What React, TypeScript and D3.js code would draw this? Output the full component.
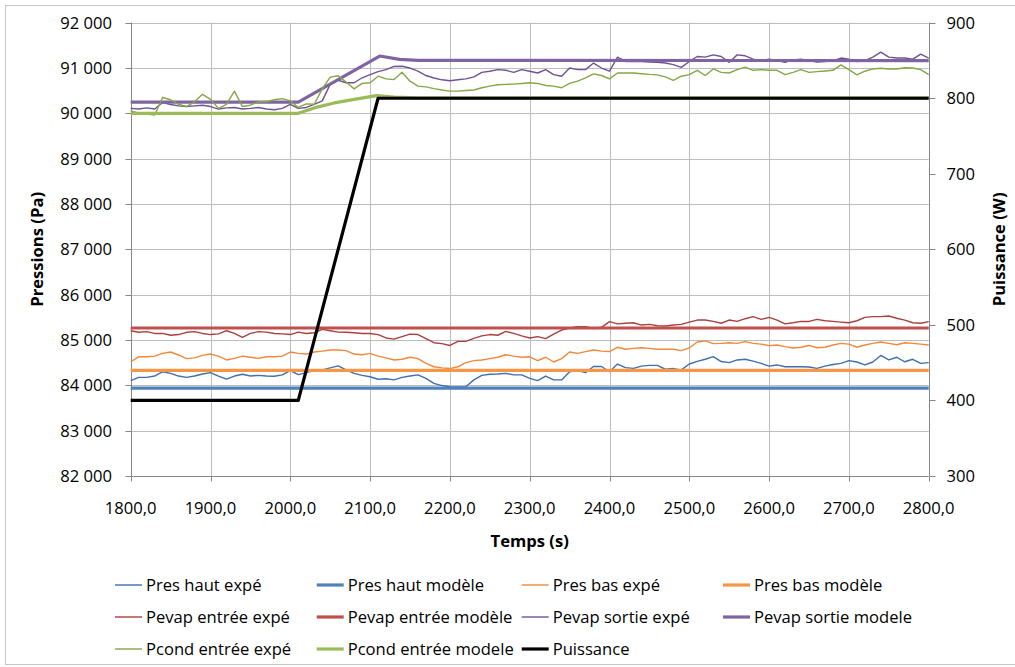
import React from "react";
import * as d3 from "d3";

// ---------- DATA ----------
const TIMES = d3.range(1800, 2801, 10);

const presHautExpe = [
  84105, 84175, 84175, 84205, 84300, 84265, 84205, 84175, 84205, 84250,
  84280, 84205, 84135, 84205, 84245, 84205, 84220, 84205, 84200, 84230,
  84325, 84235, 84280, 84325, 84340, 84385, 84430, 84340, 84265, 84220,
  84190, 84135, 84145, 84120, 84175, 84205, 84230, 84155, 84045, 83995,
  83970, 83965, 83970, 84120, 84220, 84245, 84250, 84265, 84230, 84230,
  84155, 84105, 84205, 84120, 84120, 84300, 84325, 84280, 84415, 84415,
  84300, 84470, 84390, 84375, 84425, 84440, 84440, 84355, 84370, 84340,
  84470, 84530, 84575, 84635, 84525, 84500, 84560, 84575, 84535, 84485,
  84425, 84450, 84410, 84410, 84410, 84405, 84375, 84425, 84460, 84485,
  84545, 84515, 84450, 84515, 84660, 84560, 84620, 84520, 84575, 84485,
  84500,
];

const presBasExpe = [
  84520, 84630, 84630, 84645, 84705, 84735, 84670, 84590, 84605, 84660,
  84690, 84645, 84560, 84595, 84645, 84620, 84595, 84630, 84630, 84645,
  84735, 84705, 84690, 84735, 84755, 84780, 84780, 84765, 84690, 84675,
  84705, 84645, 84605, 84560, 84575, 84620, 84590, 84485, 84410, 84385,
  84370, 84410, 84500, 84545, 84560, 84590, 84620, 84675, 84645, 84620,
  84630, 84545, 84620, 84515, 84590, 84735, 84705, 84745, 84780, 84755,
  84745, 84840, 84795, 84815, 84830, 84815, 84795, 84795, 84795, 84765,
  84825, 84955, 84980, 84920, 84925, 84940, 84925, 84965, 84925, 84910,
  84875, 84890, 84855, 84825, 84840, 84880, 84830, 84840, 84890, 84925,
  84910, 84840, 84890, 84925, 84955, 84925, 84895, 84940, 84925, 84910,
  84890,
];

const pevapEntreeExpe = [
  85205, 85170, 85185, 85145, 85145, 85105, 85120, 85170, 85185, 85145,
  85120, 85135, 85205, 85145, 85060, 85145, 85185, 85175, 85145, 85135,
  85120, 85175, 85145, 85160, 85235, 85205, 85175, 85170, 85160, 85145,
  85145, 85120, 85045, 85020, 85075, 85130, 85120, 85030, 84940, 84920,
  84880, 84970, 84970, 85035, 85090, 85120, 85105, 85190, 85145, 85090,
  85045, 85075, 85030, 85130, 85220, 85265, 85295, 85295, 85255, 85280,
  85405, 85355, 85370, 85380, 85330, 85345, 85315, 85310, 85330, 85345,
  85395, 85440, 85440, 85410, 85370, 85440, 85410, 85470, 85515, 85455,
  85500, 85440, 85355, 85380, 85410, 85410, 85455, 85425, 85410, 85395,
  85380, 85425, 85500, 85515, 85515, 85530, 85480, 85440, 85380, 85370,
  85405,
];

const pevapSortieExpe = [
  90110, 90095, 90120, 90095, 90240, 90195, 90165, 90150, 90165, 90180,
  90150, 90095, 90120, 90130, 90095, 90110, 90130, 90095, 90080, 90110,
  90200, 90110, 90130, 90200, 90275, 90640, 90730, 90675, 90675, 90785,
  90855, 90920, 90965, 91035, 91040, 91000, 90930, 90835, 90780, 90740,
  90720, 90740, 90760, 90805, 90905, 90930, 90965, 90950, 90905, 90965,
  90930, 90890, 90965, 90855, 90820, 91000, 90965, 90965, 91110, 91000,
  90930, 91240, 91145, 91150, 91145, 91130, 91125, 91110, 91075, 91015,
  91145, 91255, 91240, 91290, 91255, 91125, 91290, 91270, 91195, 91165,
  91195, 91165, 91125, 91180, 91195, 91165, 91130, 91145, 91165, 91220,
  91195, 91145, 91165, 91240, 91350, 91240, 91220, 91220, 91195, 91305,
  91220,
];

const pcondEntreeExpe = [
  90060, 90005, 89985, 89965, 90350, 90300, 90200, 90150, 90255, 90420,
  90310, 90110, 90200, 90490, 90150, 90180, 90255, 90255, 90300, 90325,
  90275, 90130, 90210, 90200, 90540, 90800, 90830, 90690, 90540, 90660,
  90675, 90820, 90760, 90745, 90905, 90710, 90600, 90585, 90545, 90515,
  90490, 90490, 90505, 90515, 90565, 90600, 90630, 90640, 90645, 90660,
  90675, 90660, 90615, 90600, 90565, 90660, 90710, 90785, 90870, 90835,
  90760, 90890, 90890, 90890, 90875, 90860, 90850, 90805, 90730, 90820,
  90855, 90950, 90835, 90980, 90905, 90890, 90965, 91020, 90950, 90965,
  90950, 90950, 90855, 90905, 90965, 90905, 90920, 90935, 90950, 91070,
  90965, 90850, 90930, 90980, 90995, 90980, 90980, 91005, 91000, 90965,
  90855,
];

// model series (breakpoints)
const presHautModeleT = [1800, 2800];
const presHautModeleV = [83940, 83940];
const presBasModeleT = [1800, 2800];
const presBasModeleV = [84330, 84330];
const pevapEntreeModeleT = [1800, 2800];
const pevapEntreeModeleV = [85265, 85265];
const pevapSortieModeleT = [1800, 2010, 2112, 2137, 2160, 2800];
const pevapSortieModeleV = [90250, 90250, 91265, 91190, 91170, 91165];
const pcondEntreeModeleT = [1800, 2010, 2030, 2055, 2080, 2108, 2130, 2160, 2800];
const pcondEntreeModeleV = [90000, 90000, 90120, 90230, 90310, 90390, 90360, 90340, 90340];
const puissanceT = [1800, 2010, 2110, 2800];
const puissanceV = [400, 400, 800, 800];

const leftTicks = [82000, 83000, 84000, 85000, 86000, 87000, 88000, 89000, 90000, 91000, 92000];
const rightTicks = [300, 400, 500, 600, 700, 800, 900];
const xTicks = [1800, 1900, 2000, 2100, 2200, 2300, 2400, 2500, 2600, 2700, 2800];

const BLUE = "#4F81BD";
const ORANGE = "#F79646";
const RED = "#C0504D";
const PURPLE = "#8064A2";
const GREEN = "#9BBB59";
const BLACK = "#000000";
// slightly deeper tones for thin experimental traces (as rendered in the reference)
const BLUE_T = "#3E6FAE";
const ORANGE_T = "#F4873A";
const RED_T = "#A9403D";
const PURPLE_T = "#6E5394";
const GREEN_T = "#83A845";

type Series = {
  name: string;
  t: number[];
  v: number[];
  color: string;
  thick: boolean;
  right?: boolean;
};

const SERIES: Series[] = [
  { name: "Pres haut expé", t: TIMES, v: presHautExpe, color: BLUE_T, thick: false },
  { name: "Pres haut modèle", t: presHautModeleT, v: presHautModeleV, color: BLUE, thick: true },
  { name: "Pres bas expé", t: TIMES, v: presBasExpe, color: ORANGE_T, thick: false },
  { name: "Pres bas modèle", t: presBasModeleT, v: presBasModeleV, color: ORANGE, thick: true },
  { name: "Pevap entrée expé", t: TIMES, v: pevapEntreeExpe, color: RED_T, thick: false },
  { name: "Pevap entrée modèle", t: pevapEntreeModeleT, v: pevapEntreeModeleV, color: RED, thick: true },
  { name: "Pevap sortie expé", t: TIMES, v: pevapSortieExpe, color: PURPLE_T, thick: false },
  { name: "Pevap sortie modele", t: pevapSortieModeleT, v: pevapSortieModeleV, color: PURPLE, thick: true },
  { name: "Pcond entrée expé", t: TIMES, v: pcondEntreeExpe, color: GREEN_T, thick: false },
  { name: "Pcond entrée modele", t: pcondEntreeModeleT, v: pcondEntreeModeleV, color: GREEN, thick: true },
  { name: "Puissance", t: puissanceT, v: puissanceV, color: BLACK, thick: true, right: true },
];

// ---------- LAYOUT ----------
const W = 1015;
const H = 667;
const PL = 130.7, PR = 928.7, PT = 22.7, PB = 476;
const FONT = "'Open Sans', 'DejaVu Sans', sans-serif";
const FS = 16.6;

const x = d3.scaleLinear().domain([1800, 2800]).range([PL, PR]);
const yL = d3.scaleLinear().domain([82000, 92000]).range([PB, PT]);
const yR = d3.scaleLinear().domain([300, 900]).range([PB, PT]);

const loc = d3.formatLocale({ decimal: ",", thousands: "\u00a0", grouping: [3], currency: ["", ""] });
const fmtL = loc.format(",.0f");
const fmtX = loc.format(".1f");
const fmtR = loc.format(".0f");

const px = (v: number) => Math.round(v) + 0.5;

// legend layout: [col, row]
const LEG_COLS = [115, 316.7, 521.7, 723];
const LEG_ROWS = [585, 617, 649];
const LEG_POS: [number, number][] = [
  [0, 0], [1, 0], [2, 0], [3, 0],
  [0, 1], [1, 1], [2, 1], [3, 1],
  [0, 2], [1, 2], [2, 2],
];

export default function App() {
  const lineFor = (s: Series) => {
    const ys = s.right ? yR : yL;
    const pts = s.t.map((t, i) => [t, s.v[i]] as [number, number]);
    return d3
      .line<[number, number]>()
      .x((d) => x(d[0]))
      .y((d) => ys(d[1]))(pts) as string;
  };

  return (
    <svg
      width={W}
      height={H}
      style={{ position: "absolute", left: 0, top: 0, background: "#fff" }}
      fontFamily={FONT}
    >
      <rect x={0} y={0} width={W} height={H} fill="#fff" />
      <rect x={5.5} y={5.5} width={W} height={659} fill="none" stroke="#c6c6c6" strokeWidth={1} />

      {/* gridlines */}
      {leftTicks.map((v) => (
        <line key={"gh" + v} x1={PL} x2={PR} y1={px(yL(v))} y2={px(yL(v))} stroke="#bdbdbd" strokeWidth={1} />
      ))}
      {xTicks.map((t) => (
        <line key={"gv" + t} x1={px(x(t))} x2={px(x(t))} y1={PT} y2={PB} stroke="#bdbdbd" strokeWidth={1} />
      ))}

      {/* axes */}
      <line x1={px(PL)} x2={px(PL)} y1={PT} y2={PB} stroke="#868686" />
      <line x1={px(PR)} x2={px(PR)} y1={PT} y2={PB} stroke="#868686" />
      <line x1={PL} x2={PR} y1={px(PB)} y2={px(PB)} stroke="#868686" />
      {leftTicks.map((v) => (
        <g key={"lt" + v}>
          <line x1={px(PL) - 6} x2={px(PL)} y1={px(yL(v))} y2={px(yL(v))} stroke="#868686" />
          <text x={112} y={yL(v) + 6} textAnchor="end" fontSize={FS} fill="#000">
            {fmtL(v)}
          </text>
        </g>
      ))}
      {rightTicks.map((v) => (
        <g key={"rt" + v}>
          <line x1={px(PR)} x2={px(PR) + 6} y1={px(yR(v))} y2={px(yR(v))} stroke="#868686" />
          <text x={946.5} y={yR(v) + 6} textAnchor="start" fontSize={FS} fill="#000">
            {fmtR(v)}
          </text>
        </g>
      ))}
      {xTicks.map((t) => (
        <g key={"xt" + t}>
          <line x1={px(x(t))} x2={px(x(t))} y1={px(PB)} y2={px(PB) + 5} stroke="#868686" />
          <text x={x(t)} y={514} textAnchor="middle" fontSize={FS} fill="#000">
            {fmtX(t)}
          </text>
        </g>
      ))}

      {/* axis titles */}
      <text x={(PL + PR) / 2} y={547} textAnchor="middle" fontSize={FS} fontWeight="bold">
        Temps (s)
      </text>
      <text
        transform={`translate(37.5, ${(PT + PB) / 2}) rotate(-90)`}
        textAnchor="middle"
        dy="0.35em"
        fontSize={FS}
        fontWeight="bold"
      >
        Pressions (Pa)
      </text>
      <text
        transform={`translate(999, ${(PT + PB) / 2}) rotate(-90)`}
        textAnchor="middle"
        dy="0.35em"
        fontSize={FS}
        fontWeight="bold"
      >
        Puissance (W)
      </text>

      {/* series */}
      <g fill="none" strokeLinejoin="round" strokeLinecap="butt">
        {SERIES.map((s) => (
          <path key={s.name} d={lineFor(s)} stroke={s.color} strokeWidth={s.thick ? 3.2 : 1.4} />
        ))}
      </g>

      {/* legend */}
      {SERIES.map((s, i) => {
        const [c, r] = LEG_POS[i];
        const lx = LEG_COLS[c];
        const ly = LEG_ROWS[r];
        return (
          <g key={"lg" + s.name}>
            <line x1={lx} x2={lx + 27} y1={ly} y2={ly} stroke={s.color} strokeWidth={s.thick ? 3.2 : 1.4} />
            <text x={lx + 31} y={ly + 6} fontSize={FS} fill="#000">
              {s.name}
            </text>
          </g>
        );
      })}
    </svg>
  );
}
